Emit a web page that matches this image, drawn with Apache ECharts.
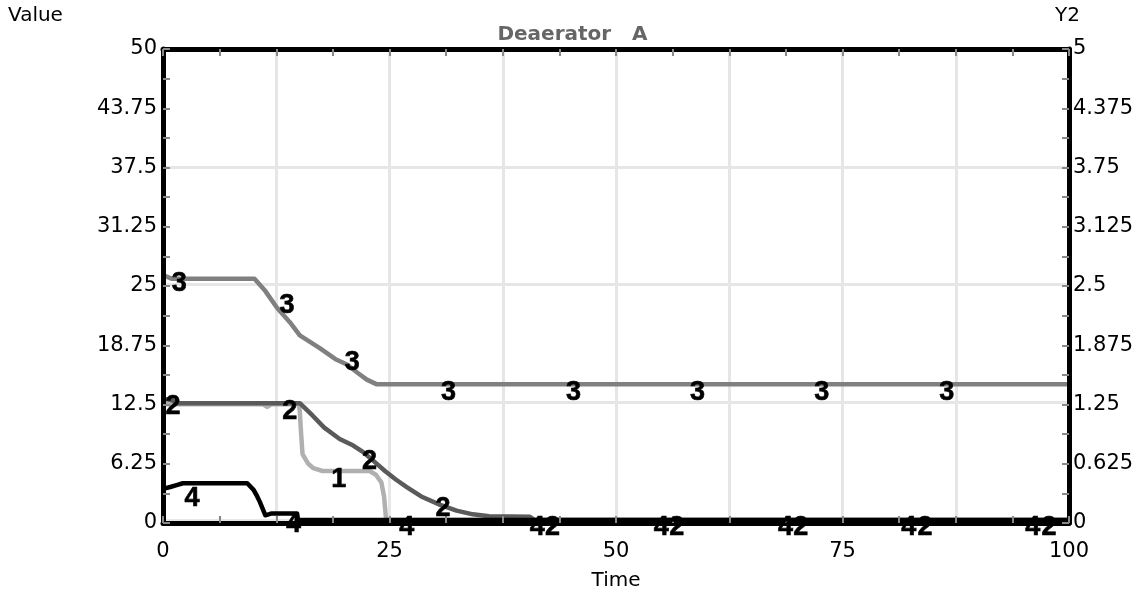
<!DOCTYPE html>
<html>
<head>
<meta charset="utf-8">
<script src="https://cdn.jsdelivr.net/npm/echarts@6/dist/echarts.min.js"></script>
<style>
  html, body { margin: 0; padding: 0; background: #fff; }
  #deaeratorChart { width: 1145px; height: 596px; }
</style>
</head>
<body>
<div id="deaeratorChart"></div>
<script>
// curves, [time, value]
var line1 = [[0, 12.3], [11, 12.3], [11.5, 12.0], [12, 12.3], [15.0, 12.3], [15.1, 11.5], [15.2, 9.8],
  [15.4, 7.0], [16.0, 6.0], [16.6, 5.5], [17.6, 5.2], [22.8, 5.2], [23.5, 4.8], [24.1, 4.0],
  [24.4, 2.5], [24.6, 0.3], [24.7, 0], [100, 0]];
var line2 = [[0, 12.9], [1, 12.7], [1.5, 12.4], [15.1, 12.4], [16.5, 11.1], [17.8, 9.8], [19.5, 8.6],
  [21, 7.9], [22.1, 7.2], [23.2, 6.3], [24.5, 5.2], [25.7, 4.3], [26.9, 3.5], [28.5, 2.5],
  [30.6, 1.6], [32.4, 1.0], [34.2, 0.6], [36, 0.4], [40.5, 0.35], [41, 0], [100, 0]];
var line3 = [[0, 26.0], [1, 25.6], [10.1, 25.6], [11.3, 24.3], [12.6, 22.5], [14, 21.0], [15.1, 19.6],
  [17.3, 18.25], [19, 17.1], [20.3, 16.5], [21.5, 15.6], [22.5, 14.9], [23.6, 14.4], [100, 14.4]];
var line4 = [[0, 3.3], [0.8, 3.5], [1.5, 3.7], [2.2, 3.9], [9.3, 3.9], [10, 3.2], [10.4, 2.5],
  [10.7, 1.9], [11.3, 0.5], [12, 0.7], [14.8, 0.7], [14.9, 0], [100, 0]];

// where the curve numbers sit
var marks1 = [[19.4, 4.3]];
var marks2 = [[1.1, 12.0], [14.0, 11.5], [22.8, 6.2], [30.9, 1.2], [43.0, -0.8], [56.7, -0.8],
  [70.4, -0.8], [84.1, -0.8], [97.8, -0.8]];
var marks3 = [[1.8, 25.1], [13.7, 22.8], [20.9, 16.7], [31.5, 13.55], [45.3, 13.55], [59.0, 13.55],
  [72.7, 13.55], [86.5, 13.55]];
var marks4 = [[3.2, 2.3], [14.4, -0.5], [26.9, -0.8], [41.3, -0.8], [55.0, -0.8], [68.7, -0.8],
  [82.3, -0.8], [96.0, -0.8]];

var lineColors = ['#b0b0b0', '#5a5a5a', '#808080', '#000000'];
var chartTitle = 'Deaerator   A';

var myChart = echarts.init(document.getElementById('deaeratorChart'));

var gridRect = { left: 163, right: 76, top: 49, bottom: 73 };
var tickStyle = { show: true, inside: true, length: 7, lineStyle: { color: '#888', width: 2 } };
var minorStyle = { show: true, splitNumber: 2, length: 7, lineStyle: { color: '#888', width: 2 } };
var frameLine = { show: true, onZero: false, lineStyle: { color: '#000', width: 5 } };
var labelFont = { fontFamily: 'DejaVu Sans', fontSize: 21, color: '#000' };

function lineSeries(name, data, color) {
  return {
    name: name,
    type: 'line',
    data: data,
    showSymbol: false,
    symbol: 'none',
    smooth: false,
    z: 3,
    lineStyle: { color: color, width: 4.5, join: 'round' }
  };
}
function markSeries(name, data) {
  return {
    name: name + 'lbl',
    type: 'scatter',
    data: data,
    symbolSize: 0.01,
    clip: false,
    itemStyle: { color: '#000', opacity: 1 },
    z: 20,
    silent: true,
    label: {
      show: true,
      position: 'inside',
      formatter: name,
      fontFamily: 'Liberation Sans',
      fontWeight: 'bold',
      fontSize: 27,
      color: '#000',
      opacity: 1,
      textBorderColor: '#000',
      textBorderWidth: 0.6
    }
  };
}

var option = {
  animation: false,
  backgroundColor: '#fff',
  title: [
    { text: chartTitle, left: 'center', top: 25, padding: 0,
      textStyle: { fontFamily: 'DejaVu Sans', fontWeight: 'bold', fontSize: 20, color: '#666' } },
    { text: 'Value', left: 8, top: 6, padding: 0,
      textStyle: { fontFamily: 'DejaVu Sans', fontWeight: 'normal', fontSize: 20, color: '#000' } },
    { text: 'Y2', left: 1055, top: 6, padding: 0,
      textStyle: { fontFamily: 'DejaVu Sans', fontWeight: 'normal', fontSize: 20, color: '#000' } }
  ],
  grid: [
    Object.assign({}, gridRect),
    Object.assign({}, gridRect)
  ],
  xAxis: [
    {
      // labels and vertical grid
      gridIndex: 0, type: 'value', min: 0, max: 100, interval: 12.5, position: 'bottom',
      axisLine: { show: false },
      axisTick: { show: false },
      splitLine: { show: true, lineStyle: { color: '#e6e6e6', width: 3 } },
      axisLabel: Object.assign({ margin: 21, formatter: function (v) { return v % 25 === 0 ? String(v) : ''; } }, labelFont),
      name: 'Time', nameLocation: 'middle', nameGap: 51,
      nameTextStyle: { fontFamily: 'DejaVu Sans', fontSize: 20, color: '#000' }
    },
    {
      gridIndex: 1, type: 'value', min: 0, max: 100, interval: 12.5, position: 'bottom', z: 10,
      axisLine: frameLine, axisTick: tickStyle, minorTick: minorStyle,
      splitLine: { show: false }, axisLabel: { show: false }
    },
    {
      gridIndex: 1, type: 'value', min: 0, max: 100, interval: 12.5, position: 'top', z: 10,
      axisLine: frameLine, axisTick: tickStyle, minorTick: minorStyle,
      splitLine: { show: false }, axisLabel: { show: false }
    }
  ],
  yAxis: [
    {
      // horizontal grid only, every 12.5
      gridIndex: 0, type: 'value', min: 0, max: 50, interval: 12.5, position: 'left',
      axisLine: { show: false },
      axisTick: { show: false },
      splitLine: { show: true, lineStyle: { color: '#e6e6e6', width: 3 } },
      axisLabel: { show: false }
    },
    {
      gridIndex: 1, type: 'value', min: 0, max: 50, interval: 6.25, position: 'left', z: 10,
      axisLine: frameLine, axisTick: tickStyle, minorTick: minorStyle,
      splitLine: { show: false },
      axisLabel: Object.assign({ margin: 6 }, labelFont)
    },
    {
      gridIndex: 1, type: 'value', min: 0, max: 5, interval: 0.625, position: 'right', z: 10,
      axisLine: frameLine, axisTick: tickStyle, minorTick: minorStyle,
      splitLine: { show: false },
      axisLabel: Object.assign({ margin: 4 }, labelFont)
    }
  ],
  series: [
    lineSeries('1', line1, lineColors[0]),
    lineSeries('2', line2, lineColors[1]),
    lineSeries('3', line3, lineColors[2]),
    lineSeries('4', line4, lineColors[3]),
    markSeries('1', marks1),
    markSeries('2', marks2),
    markSeries('3', marks3),
    markSeries('4', marks4)
  ]
};
myChart.setOption(option);
</script>
</body>
</html>
